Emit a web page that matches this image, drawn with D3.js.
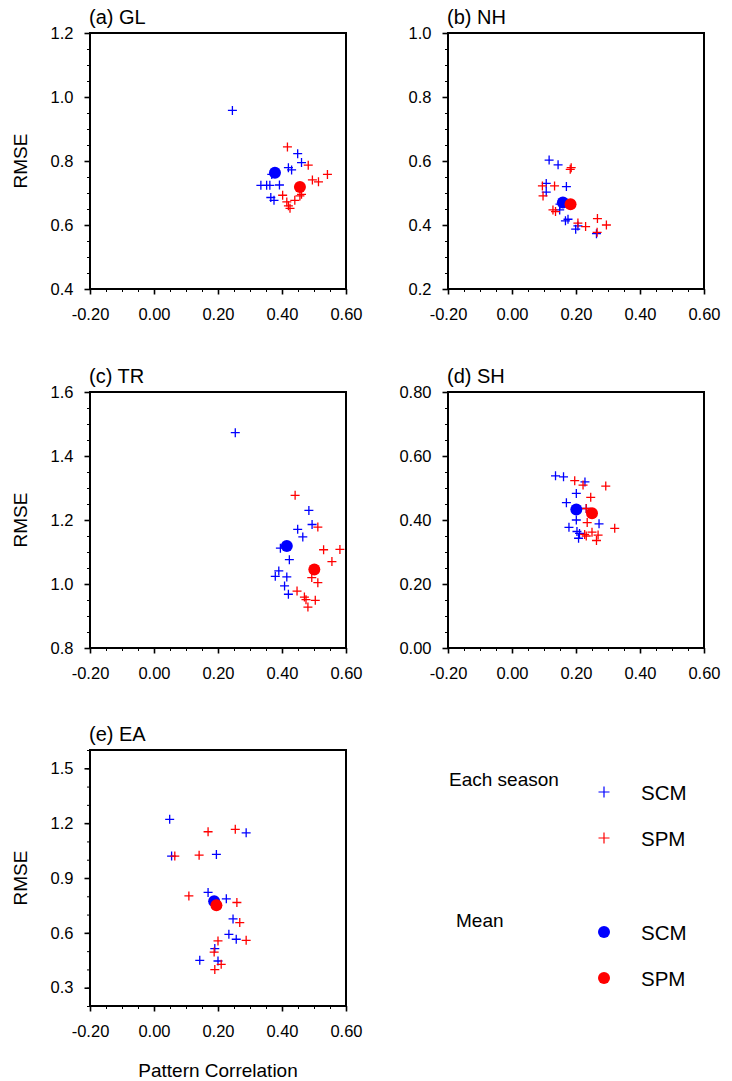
<!DOCTYPE html>
<html>
<head>
<meta charset="utf-8">
<script src="https://cdn.jsdelivr.net/npm/d3@7"></script>
<style>
    body { margin: 0; background: #fff; }
    svg { font-family: "Liberation Sans", Arial, Helvetica, sans-serif; }
</style>
</head>
<body>
<div id="chart"></div>
<script>
// panel labels and axes
const panelTitles = ["(a) GL", "(b) NH", "(c) TR", "(d) SH", "(e) EA"];
const xTickValues = [-0.2, 0, 0.2, 0.4, 0.6];
const yDomains = [[0.4, 1.2], [0.2, 1.0], [0.8, 1.6], [0, 0.8], [0.2, 1.6]];
const yTickValues = [
    [0.4, 0.6, 0.8, 1.0, 1.2],
    [0.2, 0.4, 0.6, 0.8, 1.0],
    [0.8, 1.0, 1.2, 1.4, 1.6],
    [0, 0.2, 0.4, 0.6, 0.8],
    [0.3, 0.6, 0.9, 1.2, 1.5]
];
const yTickDigits = [1, 1, 1, 2, 1];
const yMinorSteps = [0.05, 0.05, 0.05, 0.05, 0.1];

// each season: [pattern correlation, RMSE]
const glScm = [[0.245, 0.958], [0.449, 0.823], [0.461, 0.795], [0.420, 0.779], [0.430, 0.772], [0.368, 0.758],
    [0.392, 0.725], [0.334, 0.724], [0.352, 0.724], [0.362, 0.724], [0.365, 0.686], [0.375, 0.677]];
const glSpm = [[0.417, 0.844], [0.482, 0.787], [0.495, 0.741], [0.514, 0.735], [0.542, 0.758], [0.402, 0.693],
    [0.415, 0.672], [0.420, 0.660], [0.425, 0.652], [0.440, 0.677], [0.456, 0.691], [0.461, 0.696]];

const nhScm = [[0.116, 0.603], [0.144, 0.588], [0.170, 0.520], [0.107, 0.530], [0.107, 0.503], [0.149, 0.447],
    [0.167, 0.413], [0.175, 0.418], [0.199, 0.387], [0.206, 0.397], [0.264, 0.373], [0.150, 0.465]];
const nhSpm = [[0.182, 0.574], [0.185, 0.579], [0.095, 0.522], [0.133, 0.522], [0.097, 0.491], [0.128, 0.447],
    [0.136, 0.442], [0.206, 0.406], [0.230, 0.395], [0.267, 0.420], [0.295, 0.400], [0.266, 0.377]];

const trScm = [[0.254, 1.473], [0.484, 1.230], [0.494, 1.186], [0.449, 1.171], [0.465, 1.147], [0.395, 1.112],
    [0.423, 1.076], [0.390, 1.041], [0.379, 1.024], [0.415, 1.022], [0.408, 0.994], [0.420, 0.968]];
const trSpm = [[0.441, 1.277], [0.512, 1.178], [0.530, 1.107], [0.581, 1.108], [0.556, 1.070], [0.493, 1.020],
    [0.512, 1.004], [0.447, 0.978], [0.470, 0.959], [0.475, 0.951], [0.504, 0.949], [0.481, 0.928]];

const shScm = [[0.136, 0.538], [0.161, 0.535], [0.228, 0.519], [0.201, 0.483], [0.170, 0.454], [0.232, 0.436],
    [0.201, 0.400], [0.178, 0.377], [0.203, 0.364], [0.211, 0.358], [0.208, 0.343], [0.272, 0.388]];
const shSpm = [[0.196, 0.523], [0.222, 0.509], [0.293, 0.506], [0.246, 0.471], [0.232, 0.436], [0.235, 0.392],
    [0.227, 0.355], [0.250, 0.362], [0.269, 0.353], [0.264, 0.336], [0.321, 0.374], [0.232, 0.350]];

const eaScm = [[0.049, 1.221], [0.288, 1.147], [0.055, 1.020], [0.195, 1.029], [0.169, 0.821], [0.226, 0.786],
    [0.247, 0.676], [0.234, 0.592], [0.257, 0.565], [0.190, 0.514], [0.143, 0.450], [0.200, 0.446]];
const eaSpm = [[0.169, 1.153], [0.254, 1.166], [0.065, 1.020], [0.141, 1.025], [0.109, 0.802], [0.259, 0.766],
    [0.268, 0.656], [0.288, 0.559], [0.200, 0.556], [0.188, 0.495], [0.210, 0.428], [0.190, 0.399]];

// mean over seasons, one entry per panel
const meanScm = [[0.378, 0.763], [0.159, 0.470], [0.415, 1.119], [0.201, 0.433], [0.188, 0.773]];
const meanSpm = [[0.456, 0.719], [0.183, 0.465], [0.501, 1.045], [0.250, 0.421], [0.195, 0.751]];

const seasonScm = [glScm, nhScm, trScm, shScm, eaScm];
const seasonSpm = [glSpm, nhSpm, trSpm, shSpm, eaSpm];

const legendGroups = ["Each season", "Mean"];
const legendNames = ["SCM", "SPM"];

// layout
const width = 732, height = 1081;
const size = 256;
const panelX = [90, 448, 90, 448, 90];
const panelY = [33, 33, 392, 392, 750];
const colors = {scm: "#0000ff", spm: "#ff0000"};

const svg = d3.select("#chart").append("svg")
    .attr("width", width)
    .attr("height", height);

function crossPath(h) {
    return `M${-h},0H${h}M0,${-h}V${h}`;
}

function drawPanel(i) {
    const g = svg.append("g")
        .attr("transform", `translate(${panelX[i]}, ${panelY[i]})`);

    const x = d3.scaleLinear().domain([-0.2, 0.6]).range([0, size]);
    const y = d3.scaleLinear().domain(yDomains[i]).range([size, 0]);

    const xAxis = d3.axisBottom(x)
        .tickValues(xTickValues)
        .tickSize(5.5)
        .tickPadding(14)
        .tickFormat(d => d.toFixed(2));
    const yAxis = d3.axisLeft(y)
        .tickValues(yTickValues[i])
        .tickSize(5.5)
        .tickPadding(11)
        .tickFormat(d => d.toFixed(yTickDigits[i]));

    const xMinor = d3.range(-0.2, 0.6 + 1e-9, 0.05);
    const yMinor = d3.range(yDomains[i][0], yDomains[i][1] + 1e-9, yMinorSteps[i]);

    g.append("g")
        .attr("transform", `translate(0, ${size})`)
        .call(d3.axisBottom(x).tickValues(xMinor).tickSize(3).tickFormat(""))
        .call(a => a.select(".domain").remove());
    g.append("g")
        .call(d3.axisLeft(y).tickValues(yMinor).tickSize(3).tickFormat(""))
        .call(a => a.select(".domain").remove());

    const gx = g.append("g")
        .attr("class", "axis")
        .attr("transform", `translate(0, ${size})`)
        .call(xAxis);
    const gy = g.append("g")
        .attr("class", "axis")
        .call(yAxis);

    [gx, gy].forEach(a => {
        a.select(".domain").remove();
        a.selectAll(".tick line").attr("stroke-width", 1.6);
        a.selectAll("text")
            .attr("font-size", 16.5)
            .attr("fill", "#000")
            .style("font-family", "inherit");
    });
    g.selectAll(".tick line").attr("stroke", "#000");

    g.append("rect")
        .attr("width", size)
        .attr("height", size)
        .attr("fill", "none")
        .attr("stroke", "#000")
        .attr("stroke-width", 2);

    g.append("text")
        .attr("x", -1)
        .attr("y", -9)
        .attr("font-size", 20)
        .text(panelTitles[i]);

    if (i % 2 === 0) {
        g.append("text")
            .attr("transform", `translate(${-63}, ${size / 2}) rotate(-90)`)
            .attr("text-anchor", "middle")
            .attr("font-size", 19)
            .text("RMSE");
    }

    const series = [
        {data: seasonScm[i], color: colors.scm},
        {data: seasonSpm[i], color: colors.spm}
    ];
    series.forEach(s => {
        g.append("g").selectAll("path")
            .data(s.data)
            .join("path")
            .attr("d", crossPath(4.5))
            .attr("transform", d => `translate(${x(d[0])}, ${y(d[1])})`)
            .attr("stroke", s.color)
            .attr("stroke-width", 1.3)
            .attr("fill", "none");
    });

    [[meanScm[i], colors.scm], [meanSpm[i], colors.spm]].forEach(([d, c]) => {
        g.append("circle")
            .attr("cx", x(d[0]))
            .attr("cy", y(d[1]))
            .attr("r", 6)
            .attr("fill", c);
    });
}

panelTitles.forEach((t, i) => drawPanel(i));

// x axis title under the last panel
svg.append("text")
    .attr("x", panelX[4] + size / 2)
    .attr("y", 1077)
    .attr("text-anchor", "middle")
    .attr("font-size", 19)
    .text("Pattern Correlation");

// legend
const legend = svg.append("g");
legend.append("text").attr("x", 449).attr("y", 786).attr("font-size", 19).text(legendGroups[0]);
legend.append("text").attr("x", 456).attr("y", 927).attr("font-size", 19).text(legendGroups[1]);

const legendRows = [
    {y: 792, kind: "cross", color: colors.scm, name: legendNames[0]},
    {y: 838, kind: "cross", color: colors.spm, name: legendNames[1]},
    {y: 932, kind: "dot", color: colors.scm, name: legendNames[0]},
    {y: 978, kind: "dot", color: colors.spm, name: legendNames[1]}
];
legendRows.forEach(r => {
    if (r.kind === "cross") {
        legend.append("path")
            .attr("d", crossPath(5.5))
            .attr("transform", `translate(604, ${r.y})`)
            .attr("stroke", r.color)
            .attr("stroke-width", 1.2)
            .attr("fill", "none");
    } else {
        legend.append("circle")
            .attr("cx", 604)
            .attr("cy", r.y)
            .attr("r", 6)
            .attr("fill", r.color);
    }
    legend.append("text")
        .attr("x", 641)
        .attr("y", r.y + 8)
        .attr("font-size", 20.5)
        .text(r.name);
});
</script>
</body>
</html>
